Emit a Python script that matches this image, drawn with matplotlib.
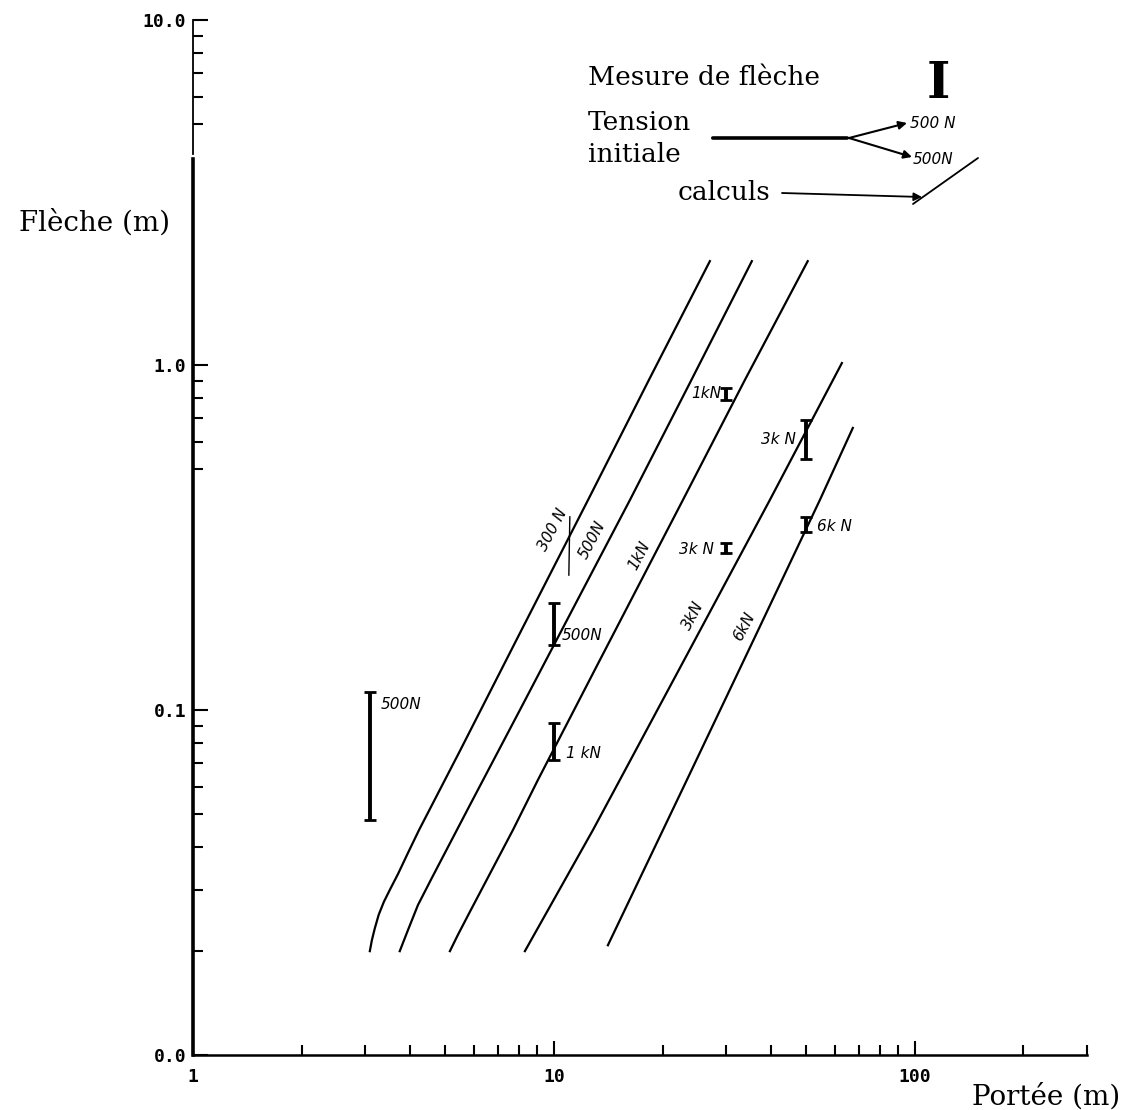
import numpy as np
import matplotlib
matplotlib.use("Agg")
import matplotlib.pyplot as plt

# computed sag curves (span in m, sag in m)
x_300N = [3.09, 3.13, 3.19, 3.27, 3.38, 3.51, 3.70, 3.94, 4.23, 5.49, 8.05, 12.43, 18.45, 27.05]
y_300N = [0.020, 0.0215, 0.0233, 0.0255, 0.0278, 0.0301, 0.0335, 0.0385, 0.0449,
          0.0761, 0.167, 0.406, 0.917, 2.0]
x_500N = [3.74, 3.94, 4.20, 4.59, 5.85, 8.05, 11.43, 16.24, 23.81, 35.36]
y_500N = [0.020, 0.0230, 0.0272, 0.0326, 0.0530, 0.100, 0.2015, 0.406, 0.887, 2.0]
x_1kN = [5.15, 5.42, 5.85, 7.70, 9.03, 13.41, 22.77, 33.82, 50.5]
y_1kN = [0.020, 0.0223, 0.0260, 0.0449, 0.0627, 0.1396, 0.406, 0.905, 2.0]
x_3kN = [8.31, 12.83, 15.23, 24.58, 39.65, 62.8]
y_3kN = [0.020, 0.0449, 0.0627, 0.1595, 0.406, 1.013]
x_6kN = [14.11, 23.36, 36.06, 54.56, 67.34]
y_6kN = [0.0208, 0.0627, 0.1628, 0.406, 0.657]

curves = [(x_300N, y_300N), (x_500N, y_500N), (x_1kN, y_1kN),
          (x_3kN, y_3kN), (x_6kN, y_6kN)]
curve_labels = ["300 N", "500N", "1kN", "3kN", "6kN"]
curve_label_x = [9.94, 12.74, 17.3, 24.3, 33.6]
curve_label_y = [0.332, 0.311, 0.281, 0.188, 0.175]

# measured sag ranges
bar_x = [3.1, 10, 10, 30, 50, 30, 50]
bar_lo = [0.048, 0.154, 0.0716, 0.792, 0.534, 0.285, 0.328]
bar_hi = [0.113, 0.204, 0.0917, 0.858, 0.693, 0.305, 0.3625]
bar_labels = ["500N", "500N", "1 kN", "1kN", "3k N", "3k N", "6k N"]

# extra short stroke near the 300 N label
stroke_x = [11.07, 11.0]
stroke_y = [0.363, 0.246]

W, H = 1126, 1110
fig = plt.figure(figsize=(W / 100, H / 100), dpi=100)
ax = fig.add_axes([193 / W, (H - 1055) / H, (1087 - 193) / W, (1055 - 20) / H])
ax.set_xscale("log")
ax.set_yscale("log")
ax.set_xlim(1, 300)
ax.set_ylim(0.01, 10)

for (cx, cy) in curves:
    ax.plot(cx, cy, color="black", lw=1.6)

for lbl, lx, ly in zip(curve_labels, curve_label_x, curve_label_y):
    ax.text(lx, ly, lbl, rotation=62, ha="center", va="center",
            fontsize=11, style="italic", family="DejaVu Sans")

ax.plot(stroke_x, stroke_y, color="black", lw=1.0)

lo = np.array(bar_lo)
hi = np.array(bar_hi)
ymid = np.sqrt(lo * hi)
ax.errorbar(bar_x, ymid, yerr=[ymid - lo, hi - ymid],
            fmt="none", ecolor="black", elinewidth=2.8, capsize=4.5, capthick=2)

# label placement: (anchor, dx, dy, ha) in pixels
place = [("hi", 10, -13, "left"), ("lo", 8, 10, "left"), ("lo", 12, 7, "left"),
         ("mid", -5, 0, "right"), ("mid", -10, 0, "right"), ("mid", -12, -2, "right"),
         ("mid", 11, -2, "left")]
for i, lbl in enumerate(bar_labels):
    anc, dx, dy, ha = place[i]
    yy = {"hi": hi[i], "lo": lo[i], "mid": ymid[i]}[anc]
    ax.annotate(lbl, xy=(bar_x[i], yy), xytext=(dx, dy), textcoords="offset pixels",
                ha=ha, va="center", fontsize=11, style="italic", family="DejaVu Sans")

# axes styling
for s in ["top", "right"]:
    ax.spines[s].set_visible(False)
ax.spines["bottom"].set_linewidth(1.8)
ax.spines["left"].set_linewidth(2.6)
ax.spines["left"].set_bounds(0.01, 3.95)
ax.plot([1, 1], [4.1, 10], color="black", lw=1.3, clip_on=False)

ax.set_xticks([1, 10, 100])
ax.set_xticklabels(["1", "10", "100"])
ax.set_xticks([2, 3, 4, 5, 6, 7, 8, 9, 20, 30, 40, 50, 60, 70, 80, 90, 200, 300], minor=True)
ax.xaxis.set_minor_formatter(matplotlib.ticker.NullFormatter())
ax.set_yticks([0.01, 0.1, 1, 10])
ax.set_yticklabels(["0.0", "0.1", "1.0", "10.0"])
ax.set_yticks([0.02, 0.03, 0.04, 0.05, 0.06, 0.07, 0.08, 0.09,
               0.5, 0.6, 0.7, 0.8, 0.9, 5, 6, 7, 8, 9], minor=True)
ax.yaxis.set_minor_formatter(matplotlib.ticker.NullFormatter())

ax.tick_params(axis="x", which="major", direction="in", length=10, width=1.5, pad=9,
               labelsize=13, labelfontfamily="DejaVu Sans Mono")
ax.tick_params(axis="x", which="minor", direction="in", length=7, width=1.5)
ax.tick_params(axis="y", which="major", direction="in", length=11, width=1.5, pad=5,
               labelsize=13, labelfontfamily="DejaVu Sans Mono")
ax.tick_params(axis="y", which="minor", direction="in", length=7, width=1.5)
for t in ax.get_xticklabels() + ax.get_yticklabels():
    t.set_fontweight("bold")

ax.set_ylabel("Flèche (m)", rotation=0, fontsize=20, family="DejaVu Serif",
              ha="center", va="center")
ax.yaxis.set_label_coords(-0.1096, 0.804)
ax.set_xlabel("Portée (m)", fontsize=20, family="DejaVu Serif", ha="left", va="center")
ax.xaxis.set_label_coords((972 - 193) / 894, (1055 - 1097) / 1035)


# legend block, placed in figure pixels (top-left origin)
def fp(x, y):
    return (x, H - y)


serif = dict(fontsize=19, family="DejaVu Serif", va="baseline", ha="left",
             xycoords="figure pixels")
ax.annotate("Mesure de flèche", xy=fp(588, 85), **serif)
ax.annotate("Tension", xy=fp(588, 130), **serif)
ax.annotate("initiale", xy=fp(588, 162), **serif)
ax.annotate("calculs", xy=fp(678, 200), **serif)
ax.annotate("I", xy=fp(938, 85), xycoords="figure pixels", ha="center", va="center",
            fontsize=36, family="DejaVu Serif", weight="bold")

ax.annotate("", xy=fp(850, 138), xytext=fp(710, 138), xycoords="figure pixels",
            arrowprops=dict(arrowstyle="-", lw=2.6, color="black"))
for tip in [fp(907, 123), fp(912, 157)]:
    ax.annotate("", xy=tip, xytext=fp(849, 138), xycoords="figure pixels",
                arrowprops=dict(arrowstyle="-|>", lw=1.5, color="black",
                                mutation_scale=12, shrinkA=0, shrinkB=0))
ax.annotate("", xy=fp(922, 197), xytext=fp(782, 193), xycoords="figure pixels",
            arrowprops=dict(arrowstyle="-|>", lw=1.3, color="black",
                            mutation_scale=12, shrinkA=0, shrinkB=0))
ax.annotate("", xy=fp(978, 158), xytext=fp(913, 204), xycoords="figure pixels",
            arrowprops=dict(arrowstyle="-", lw=1.3, color="black",
                            shrinkA=0, shrinkB=0))
small = dict(fontsize=11, style="italic", family="DejaVu Sans", va="center",
             ha="left", xycoords="figure pixels")
ax.annotate("500 N", xy=fp(910, 123), **small)
ax.annotate("500N", xy=fp(913, 160), **small)

fig.savefig("out.png", dpi=100)
